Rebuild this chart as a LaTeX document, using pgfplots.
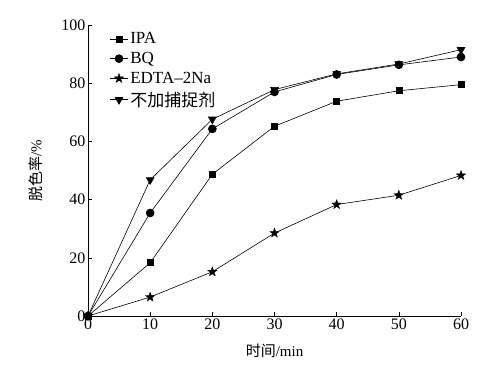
\documentclass[border=0pt]{standalone}
\usepackage{pgfplots}
\pgfplotsset{compat=1.18}
\usepackage{fontspec}
\setmainfont{Liberation Serif}
\newfontfamily\cjk{Noto Sans CJK SC}
\pgfdeclareplotmark{fstar}{%
  \pgfpathmoveto{\pgfqpointpolar{90}{\pgfplotmarksize}}%
  \pgfpathlineto{\pgfqpointpolar{126}{0.4\pgfplotmarksize}}%
  \pgfpathlineto{\pgfqpointpolar{162}{\pgfplotmarksize}}%
  \pgfpathlineto{\pgfqpointpolar{198}{0.4\pgfplotmarksize}}%
  \pgfpathlineto{\pgfqpointpolar{234}{\pgfplotmarksize}}%
  \pgfpathlineto{\pgfqpointpolar{270}{0.4\pgfplotmarksize}}%
  \pgfpathlineto{\pgfqpointpolar{306}{\pgfplotmarksize}}%
  \pgfpathlineto{\pgfqpointpolar{342}{0.4\pgfplotmarksize}}%
  \pgfpathlineto{\pgfqpointpolar{18}{\pgfplotmarksize}}%
  \pgfpathlineto{\pgfqpointpolar{54}{0.4\pgfplotmarksize}}%
  \pgfpathclose
  \pgfusepathqfillstroke}
\begin{document}
\begin{tikzpicture}
\begin{axis}[
  scale only axis,
  width=373pt, height=291pt,
  xmin=0, xmax=60, ymin=0, ymax=100,
  xtick={0,10,...,60}, ytick={0,20,...,100},
  axis x line*=bottom, axis y line*=left,
  tick align=inside,
  major tick length=4pt,
  tick style={black, line width=0.6pt},
  axis line style={line width=0.6pt},
  /pgf/number format/assume math mode=true,
  tick label style={font=\fontsize{16}{18}\selectfont},
  xticklabel style={yshift=1pt},
  yticklabel style={xshift=1pt},
  xlabel={{\cjk 时间}/min},
  ylabel={{\cjk 脱色率}/\%},
  label style={font=\fontsize{15}{17}\selectfont},
  xlabel style={yshift=-8pt},
  ylabel style={yshift=12pt},
  legend style={draw=none, fill=none, at={(0.055,0.985)}, anchor=north west,
    font=\fontsize{17}{19}\selectfont, row sep=3pt, inner sep=1pt},
  legend cell align=left,
  legend image code/.code={\draw[#1] (0pt,0pt) -- (18pt,0pt); \draw[#1, only marks] plot coordinates {(9pt,0pt)};},
  every axis plot/.append style={black, line width=0.6pt},
]
\addplot[black, mark=square*, mark size=3pt, mark options={fill=black}] coordinates {(0,0)(10,18.3)(20,48.7)(30,65.2)(40,73.8)(50,77.4)(60,79.5)};
\addplot[black, mark=*, mark size=4pt, mark options={fill=black}] coordinates {(0,0)(10,35.4)(20,64.3)(30,77)(40,83)(50,86.3)(60,89)};
\addplot[black, mark=fstar, mark size=5pt, mark options={fill=black, line width=0.3pt}] coordinates {(0,0)(10,6.5)(20,15.2)(30,28.5)(40,38.3)(50,41.5)(60,48.3)};
\addplot[black, mark=triangle*, mark size=4.5pt, mark options={fill=black, rotate=180}] coordinates {(0,0)(10,46.8)(20,67.6)(30,77.8)(40,83.2)(50,86.6)(60,91.5)};
\legend{IPA, BQ, EDTA\textendash2Na, {\cjk 不加捕捉剂}}
\end{axis}
\path (current axis.south west) ++(-88pt,-58pt) coordinate (bl);
\path (current axis.north east) ++(43pt,25pt) coordinate (tr);
\useasboundingbox (bl) rectangle (tr);
\end{tikzpicture}
\end{document}
